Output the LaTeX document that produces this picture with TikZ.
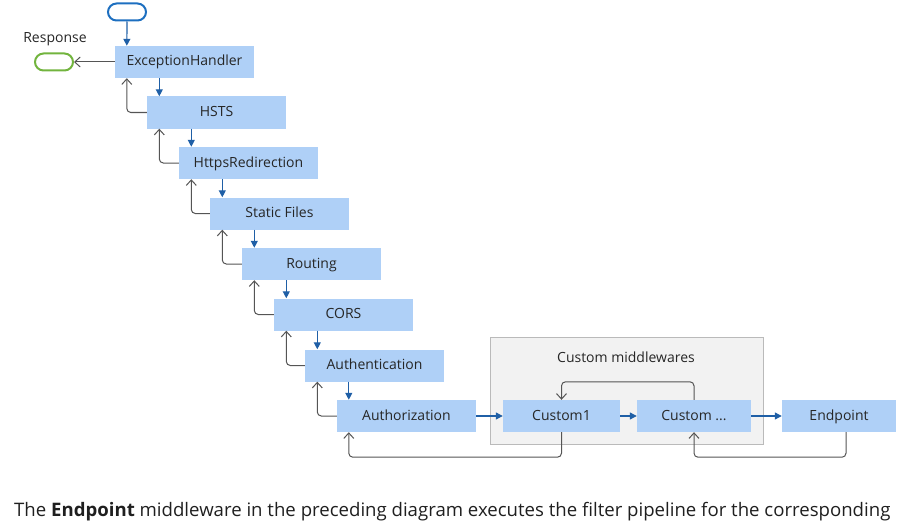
\documentclass[tikz,border=0pt]{standalone}
\usepackage{fontspec}
\setmainfont{Open Sans}
\usetikzlibrary{arrows.meta}
\definecolor{boxblue}{HTML}{AFD0F7}
\definecolor{arrowblue}{HTML}{1F5FA6}
\definecolor{startblue}{HTML}{1D6FC0}
\definecolor{respgreen}{HTML}{72B43E}
\definecolor{backgray}{HTML}{555555}
\tikzset{
	lbl/.style={font=\fontsize{14}{16}\selectfont, text=black!85},
	stage/.style={lbl, fill=boxblue, minimum width=139pt, minimum height=32pt, inner sep=0pt, text height=10pt, text depth=2pt},
	fwd/.style={arrowblue, line width=1.2pt, -{Triangle[length=7pt,width=7pt]}},
	back/.style={backgray, line width=1pt, rounded corners=4pt, -{Straight Barb[length=5.5pt,width=10pt]}},
	terminal/.style={draw, line width=2pt, rounded corners=8.5pt, minimum width=38pt, minimum height=17pt, inner sep=0pt}
}
\begin{document}
\begin{tikzpicture}[x=1pt,y=-1pt]
			\useasboundingbox (0,0) rectangle (903,527);
			% group of custom middlewares
			\draw[fill=black!5, draw=black!27, line width=0.8pt] (490,337) rectangle (763,444);
			\draw (626,357) node[lbl] (grouplbl) {Custom middlewares};
			
			\draw (127,12) node[terminal, draw=startblue] (start) {};
			\draw (54,62) node[terminal, draw=respgreen] (resp) {};
			\draw (55,39) node[lbl] (resplbl) {Response};
			
			\draw (184.5,62) node[stage] (eh) {ExceptionHandler};
			\draw (216.5,112.5) node[stage] (hsts) {HSTS};
			\draw (248.5,163) node[stage] (https) {HttpsRedirection};
			\draw (279.5,213.5) node[stage] (static) {Static Files};
			\draw (311.5,264) node[stage] (routing) {Routing};
			\draw (343.5,314.5) node[stage] (cors) {CORS};
			\draw (374.5,365.5) node[stage] (authn) {Authentication};
			\draw (406.5,416) node[stage] (authz) {Authorization};
			\draw (561.5,416) node[stage, minimum width=117pt] (custom1) {Custom1};
			\draw (694,416) node[stage, minimum width=114pt] (customx) {Custom ...};
			\draw (839,416) node[stage, minimum width=114pt] (endpoint) {Endpoint};
			
			% entry points of the stairs
			\coordinate (eh-in) at ([xshift=12pt]eh.north west);
			\coordinate (hsts-in) at ([xshift=12.5pt]hsts.north west);
			\coordinate (https-in) at ([xshift=12.5pt]https.north west);
			\coordinate (static-in) at ([xshift=12.5pt]static.north west);
			\coordinate (routing-in) at ([xshift=12.5pt]routing.north west);
			\coordinate (cors-in) at ([xshift=12.5pt]cors.north west);
			\coordinate (authn-in) at ([xshift=12.5pt]authn.north west);
			\coordinate (authz-in) at ([xshift=12pt]authz.north west);
			
			\draw[fwd] (start.south) -- (eh-in);
			\draw[fwd] (eh.south -| hsts-in) -- (hsts-in);
			\draw[fwd] (hsts.south -| https-in) -- (https-in);
			\draw[fwd] (https.south -| static-in) -- (static-in);
			\draw[fwd] (static.south -| routing-in) -- (routing-in);
			\draw[fwd] (routing.south -| cors-in) -- (cors-in);
			\draw[fwd] (cors.south -| authn-in) -- (authn-in);
			\draw[fwd] (authn.south -| authz-in) -- (authz-in);
			\draw[fwd] (authz.east) -- (custom1.west);
			\draw[fwd] (custom1.east) -- (customx.west);
			\draw[fwd] (customx.east) -- (endpoint.west);
			
			\draw[back] (eh.west) -- (resp.east);
			\draw[back] (hsts.west) -| (eh.south -| eh-in);
			\draw[back] (https.west) -| (hsts.south -| hsts-in);
			\draw[back] (static.west) -| (https.south -| https-in);
			\draw[back] (routing.west) -| (static.south -| static-in);
			\draw[back] (cors.west) -| (routing.south -| routing-in);
			\draw[back] (authn.west) -| (cors.south -| cors-in);
			\draw[back] (authz.west) -| (authn.south -| authn-in);
			\draw[back] (customx.north) -- ++(0,-18) -| (custom1.north);
			\draw[back] (custom1.south) -- ++(0,25) -| (authz.south -| authz-in);
			\draw[back] ([xshift=7pt]endpoint.south) -- ++(0,25) -| (customx.south);
			
			\draw (14,512) node[anchor=west, inner sep=0pt, font=\fontsize{18.6}{22}\selectfont, text=black!88] (caption) {The \textbf{Endpoint} middleware in the preceding diagram executes the filter pipeline for the corresponding};
		\end{tikzpicture}
\end{document}
